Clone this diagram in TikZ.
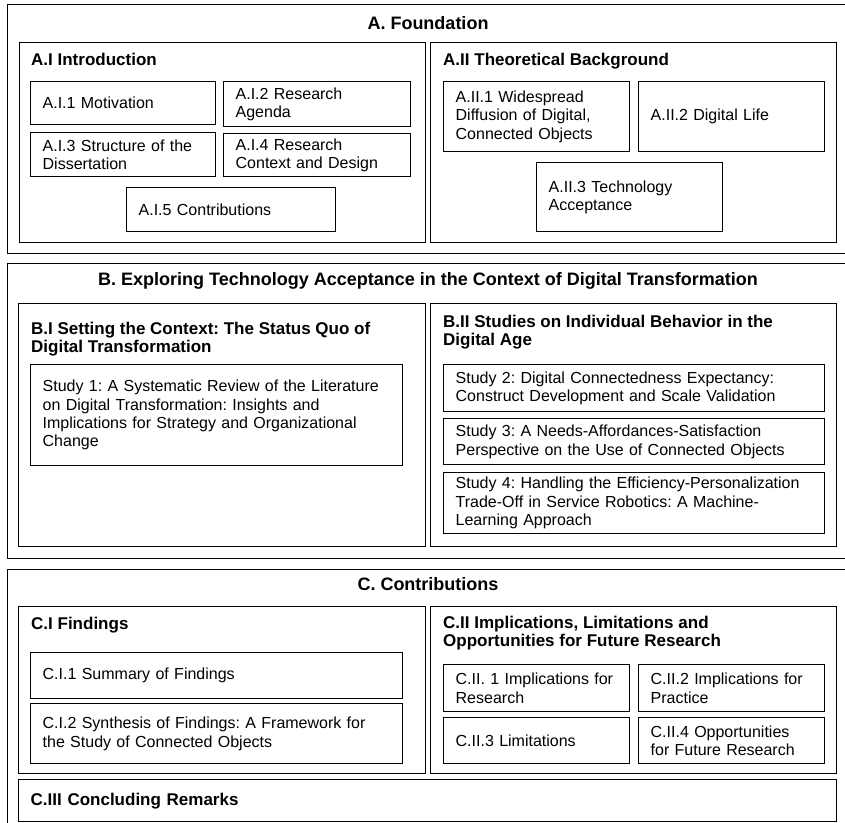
\documentclass[tikz,border=0pt]{standalone}
\usepackage{fontspec}
\setmainfont{Liberation Sans}
\usetikzlibrary{positioning}
\frenchspacing

\tikzstyle{part} = [draw, line width=1.05pt, anchor=north west, inner sep=0pt]
\tikzstyle{chapter} = [draw, line width=1.35pt, anchor=north west, inner sep=0pt]
\tikzstyle{block} = [draw, line width=1.35pt, anchor=north west, align=left,
inner xsep=12pt, inner ysep=0pt, font=\fontsize{16}{18.4}\selectfont]
\tikzstyle{heading} = [anchor=north, inner sep=0pt, font=\fontsize{18}{20}\selectfont\bfseries]
\tikzstyle{title} = [anchor=north west, inner sep=0pt, align=left, font=\fontsize{17}{18.4}\selectfont\bfseries]

\begin{document}
\begin{tikzpicture}[x=1pt, y=-1pt]
	\useasboundingbox (0,0) rectangle (845,822);
	\clip (0,0) rectangle (845,822);
	
	% A. Foundation
	\node [part, minimum width=843pt, minimum height=249pt] (Found) at (7,4) {};
	\node [heading] (FoundTitle) at (428,16) {A. Foundation};
	\node [chapter, minimum width=406pt, minimum height=200pt] (Intro) at (19,42) {};
	\node [title] (IntroTitle) at (31,53) {A.I Introduction};
	\node [block, text width=161pt, minimum height=43pt] (Motiv) at (30,81) {A.I.1 Motivation};
	\node [block, text width=163pt, minimum height=45pt] (Agenda) at (223,81) {A.I.2 Research\\Agenda};
	\node [block, text width=161pt, minimum height=44pt] (Struct) at (30,132) {A.I.3 Structure of the\\Dissertation};
	\node [block, text width=163pt, minimum height=43pt] (Design) at (223,133) {A.I.4 Research\\Context and Design};
	\node [block, text width=185pt, minimum height=44pt] (Contrib) at (126,187) {A.I.5 Contributions};
	\node [chapter, minimum width=406pt, minimum height=200pt] (Theory) at (430,42) {};
	\node [title] (TheoryTitle) at (443,53) {A.II Theoretical Background};
	\node [block, text width=162pt, minimum height=70pt] (Diffus) at (443,81) {A.II.1 Widespread\\Diffusion of Digital,\\Connected Objects};
	\node [block, text width=162pt, minimum height=70pt] (DigLife) at (638,81) {A.II.2 Digital Life};
	\node [block, text width=162pt, minimum height=69pt] (TechAcc) at (536,162) {A.II.3 Technology\\Acceptance};
	
	% B. Exploring
	\node [part, minimum width=843pt, minimum height=295pt] (Explore) at (7,263) {};
	\node [heading] (ExploreTitle) at (428,272) {B. Exploring Technology Acceptance in the Context of Digital Transformation};
	\node [chapter, minimum width=407pt, minimum height=243pt] (Context) at (18,303) {};
	\node [title] (ContextTitle) at (31,322) {B.I Setting the Context: The Status Quo of\\Digital Transformation};
	\node [block, text width=348pt, minimum height=101pt] (StudyA) at (30,364) {Study 1: A Systematic Review of the Literature\\on Digital Transformation: Insights and\\Implications for Strategy and Organizational\\Change};
	\node [chapter, minimum width=406pt, minimum height=243pt] (Behav) at (430,303) {};
	\node [title] (BehavTitle) at (443,315) {B.II Studies on Individual Behavior in the\\Digital Age};
	\node [block, text width=357pt, minimum height=47pt] (StudyB) at (443,364) {Study 2: Digital Connectedness Expectancy:\\Construct Development and Scale Validation};
	\node [block, text width=357pt, minimum height=46pt] (StudyC) at (443,418) {Study 3: A Needs-Affordances-Satisfaction\\Perspective on the Use of Connected Objects};
	\node [block, text width=357pt, minimum height=61pt] (StudyD) at (443,472) {Study 4: Handling the Efficiency-Personalization\\Trade-Off in Service Robotics: A Machine-\\Learning Approach};
	
	% C. Contributions
	\node [part, minimum width=843pt, minimum height=265pt] (Contribs) at (7,569) {};
	\node [heading] (ContribsTitle) at (428,577) {C. Contributions};
	\node [chapter, minimum width=407pt, minimum height=167pt] (Findings) at (18,606) {};
	\node [title] (FindingsTitle) at (31,617) {C.I Findings};
	\node [block, text width=348pt, minimum height=46pt] (Summary) at (30,652) {C.I.1 Summary of Findings};
	\node [block, text width=348pt, minimum height=60pt] (Synth) at (30,703) {C.I.2 Synthesis of Findings: A Framework for\\the Study of Connected Objects};
	\node [chapter, minimum width=406pt, minimum height=167pt] (Implic) at (430,606) {};
	\node [title] (ImplicTitle) at (443,616) {C.II Implications, Limitations and\\Opportunities for Future Research};
	\node [block, text width=162pt, minimum height=47pt] (ImplRes) at (443,664) {C.II. 1 Implications for\\Research};
	\node [block, text width=162pt, minimum height=47pt] (ImplPrac) at (638,664) {C.II.2 Implications for\\Practice};
	\node [block, text width=162pt, minimum height=46pt] (Limits) at (443,717) {C.II.3 Limitations};
	\node [block, text width=162pt, minimum height=46pt] (Opport) at (638,717) {C.II.4 Opportunities\\for Future Research};
	\node [block, text width=794pt, minimum height=42pt, font=\fontsize{17}{18.4}\selectfont\bfseries] (Remarks) at (18,779) {C.III Concluding Remarks};
\end{tikzpicture}
\end{document}
